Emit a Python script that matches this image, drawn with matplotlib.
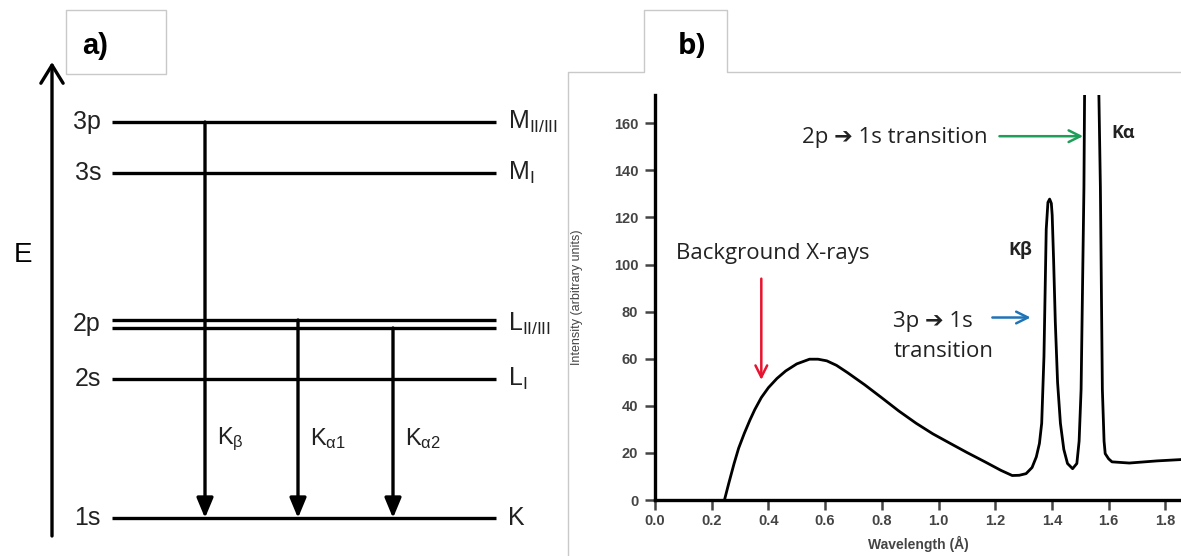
import matplotlib
matplotlib.use("Agg")
import matplotlib.pyplot as plt
from matplotlib.patches import Rectangle

W, H = 1181, 556

# --- panel a: energy levels (arbitrary energy units) ---
level_names = ["3p", "3s", "2p", "2p", "2s", "1s"]
level_shells = [r"$\mathregular{M_{II/III}}$", r"$\mathregular{M_{I}}$",
                r"$\mathregular{L_{II/III}}$", "", r"$\mathregular{L_{I}}$", "K"]
level_E = [434, 383, 236, 228, 177, 38]

trans_labels = [r"$\mathregular{K_{β}}$", r"$\mathregular{K_{α1}}$", r"$\mathregular{K_{α2}}$"]
trans_from = [0, 2, 3]   # index into levels
trans_to = 5

# --- panel b: X-ray spectrum ---
wavelength = [0.245, 0.26, 0.279, 0.295, 0.315, 0.335, 0.352, 0.375, 0.40, 0.43,
              0.461, 0.50, 0.545, 0.575, 0.606, 0.64, 0.679, 0.74, 0.80, 0.86,
              0.921, 0.98, 1.042, 1.10, 1.164, 1.22, 1.26, 1.285, 1.309, 1.33,
              1.345, 1.356, 1.364, 1.372, 1.38, 1.386, 1.392, 1.398, 1.401, 1.406,
              1.412, 1.42, 1.43, 1.442, 1.455, 1.473, 1.488, 1.496, 1.503, 1.513,
              1.516, 1.564, 1.571, 1.578, 1.584, 1.588, 1.60, 1.612, 1.673, 1.77,
              1.86]
intensity = [0, 7, 15.5, 22, 28.3, 34, 38.4, 43.5, 47.7, 51.6,
             54.8, 57.8, 59.8, 59.8, 59.1, 57.2, 54.1, 48.9, 43.4, 37.8,
             32.6, 28.1, 24.0, 20.2, 16.2, 12.6, 10.4, 10.5, 11.2, 13.8,
             18.3, 24, 32.6, 61, 115, 126.4, 127.8, 126, 121, 102,
             75.6, 50, 32.6, 21.5, 15.5, 13.3, 15.5, 25, 47, 132.8,
             185, 185, 133, 47, 25, 19.7, 17.5, 16.2, 15.7, 16.6,
             17.2]
xticks = [0.0, 0.2, 0.4, 0.6, 0.8, 1.0, 1.2, 1.4, 1.6, 1.8]
yticks = [0, 20, 40, 60, 80, 100, 120, 140, 160]

plt.rcParams['font.family'] = ['Liberation Sans', 'DejaVu Sans']
plt.rcParams['mathtext.fontset'] = 'custom'
plt.rcParams['mathtext.rm'] = 'DejaVu Sans'

fig = plt.figure(figsize=(W / 100, H / 100), dpi=100)
fig.patch.set_facecolor('white')

# overlay in pixel coordinates for frames/boxes
ov = fig.add_axes([0, 0, 1, 1])
ov.set_xlim(0, W)
ov.set_ylim(H, 0)
ov.axis('off')
box = '#c9c9c9'
ov.add_patch(Rectangle((66, 10), 100, 64, fill=False, ec=box, lw=1))
ov.text(82, 46, "a)", fontsize=21, fontweight='bold', va='center')
ov.plot([568, 568, 644, 644, 727, 727, W], [H, 72, 72, 10, 10, 72, 72], color=box, lw=1)
ov.text(678, 46, "b)", fontsize=21, fontweight='bold', va='center',
        family=['Open Sans', 'DejaVu Sans'])

# panel a axes
axa = fig.add_axes([0, 0, 560 / W, 1])
axa.set_xlim(0, 560)
axa.set_ylim(0, H)
axa.axis('off')
axa.patch.set_alpha(0)

axa.annotate("", xy=(52, 494), xytext=(52, 20),
             arrowprops=dict(arrowstyle='->,head_length=0.65,head_width=0.4',
                             lw=2.4, color='k', shrinkA=0, shrinkB=0, mutation_scale=20))
axa.text(23, 301, "E", fontsize=20, ha='center', va='center')

for e in level_E:
    axa.plot([112, 496], [e, e], color='k', lw=2.4, solid_capstyle='butt')
for i, (name, shell, e) in enumerate(zip(level_names, level_shells, level_E)):
    if i == 3:
        continue
    ye = e if i != 2 else (level_E[2] + level_E[3]) / 2
    axa.text(101, ye, name, fontsize=18, ha='right', va='center', color='#222')
    axa.text(508, ye, shell, fontsize=18, ha='left', va='center', color='#222')

arrow_x = [205, 298, 393]
for x, src, lab in zip(arrow_x, trans_from, trans_labels):
    axa.annotate("", xy=(x, level_E[trans_to]), xytext=(x, level_E[src]),
                 arrowprops=dict(arrowstyle='-|>,head_length=0.6,head_width=0.25',
                                 lw=2.4, color='k', shrinkA=0, shrinkB=0,
                                 mutation_scale=20))
    axa.text(x + 12, 117, lab, fontsize=17, ha='left', va='center', color='#222')

# panel b axes
x0, y0, x1, y1 = 655, 500, W, 95
ax = fig.add_axes([x0 / W, (H - y0) / H, (x1 - x0) / W, (y0 - y1) / H])
ax.patch.set_alpha(0)
ax.plot(wavelength, intensity, color='k', lw=2.0, solid_joinstyle='round')
ax.set_xlim(0, (x1 - x0) / 283.5)
ax.set_ylim(0, 172)
for s in ['top', 'right']:
    ax.spines[s].set_visible(False)
for s in ['left', 'bottom']:
    ax.spines[s].set_linewidth(2.4)
ax.set_xticks(xticks)
ax.set_yticks(yticks)
ax.set_xticklabels([f"{v:.1f}" for v in xticks])
ax.tick_params(direction='out', length=7, width=1.8, labelsize=10.5, colors='#444', pad=3)
ax.tick_params(axis='y', pad=5)
for t in ax.get_xticklabels() + ax.get_yticklabels():
    t.set_fontweight('bold')
ax.set_xlabel("Wavelength (Å)", fontsize=10, fontweight='bold', color='#444', labelpad=6)
ax.set_ylabel("Intensity (arbitrary units)", fontsize=9, color='#444', labelpad=22)

cal = ['Open Sans', 'DejaVu Sans']
ax.text(0.075, 104.5, "Background X-rays", fontsize=16, family=cal, color='#222', va='center')
ax.annotate("", xy=(0.375, 51), xytext=(0.375, 94),
            arrowprops=dict(arrowstyle='->,head_length=0.6,head_width=0.3', lw=1.8,
                            color='#e8132f', shrinkA=0, shrinkB=0, mutation_scale=14))
ax.text(0.52, 154, "2p ➔ 1s transition", fontsize=16, family=cal, color='#222', va='center')
ax.annotate("", xy=(1.51, 154.5), xytext=(1.215, 154.5),
            arrowprops=dict(arrowstyle='->,head_length=0.6,head_width=0.3', lw=1.8,
                            color='#1f9e5a', shrinkA=0, shrinkB=0, mutation_scale=14))
ax.text(0.84, 76, "3p ➔ 1s", fontsize=16, family=cal, color='#222', va='center')
ax.text(0.84, 63, "transition", fontsize=16, family=cal, color='#222', va='center')
ax.annotate("", xy=(1.325, 77.5), xytext=(1.19, 77.5),
            arrowprops=dict(arrowstyle='->,head_length=0.6,head_width=0.3', lw=1.8,
                            color='#1f73b7', shrinkA=0, shrinkB=0, mutation_scale=14))
ax.text(1.61, 156, "Kα", fontsize=13, fontweight='bold', family=cal, color='#222', va='center')
ax.text(1.245, 106, "Kβ", fontsize=13, fontweight='bold', family=cal, color='#222', va='center')

fig.savefig("out.png", dpi=100)
